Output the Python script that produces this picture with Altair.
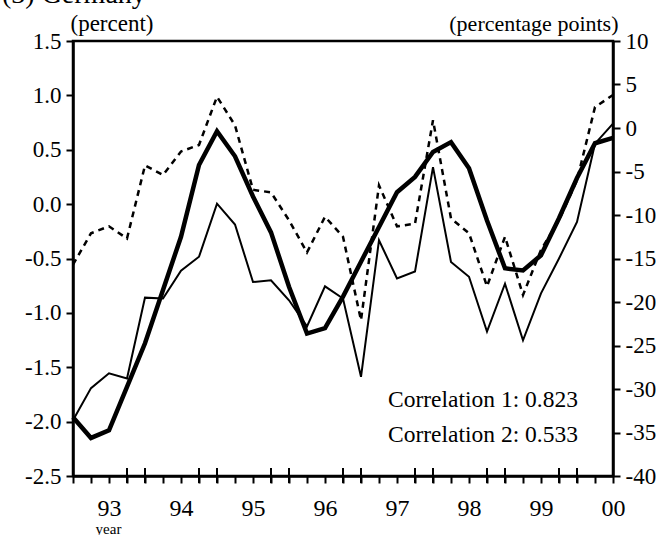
import json

import altair as alt
import pandas as pd

FONT = "Liberation Serif"

# Quarterly observations, 1992Q3 .. 2000Q1 (index 0 .. 30)
quarters = list(range(31))

# Thick solid line, left axis (percent)
output_gap = [-1.96, -2.15, -2.08, -1.68, -1.28, -0.79, -0.30, 0.36, 0.67, 0.44,
              0.07, -0.26, -0.76, -1.19, -1.14, -0.85, -0.53, -0.21, 0.11, 0.25,
              0.48, 0.57, 0.33, -0.15, -0.59, -0.61, -0.47, -0.13, 0.24, 0.56, 0.61]

# Thin solid line, right axis (percentage points)
indicator_1 = [-33.6, -29.9, -28.2, -28.8, -19.5, -19.6, -16.4, -14.8, -8.7, -11.1,
               -17.7, -17.5, -19.8, -22.8, -18.2, -19.6, -28.6, -12.9, -17.3, -16.5,
               -4.5, -15.4, -17.1, -23.4, -17.9, -24.4, -19.0, -15.0, -10.8, -1.8, 0.5]

# Dashed line, right axis (percentage points)
indicator_2 = [-15.7, -12.1, -11.3, -12.7, -4.3, -5.4, -2.7, -1.95, 3.6, 0.3,
               -7.1, -7.4, -10.6, -14.3, -10.2, -12.5, -22.1, -6.6, -11.3, -11.0,
               0.9, -10.4, -12.1, -18.2, -12.5, -19.2, -14.0, -10.6, -6.0, 2.4, 3.8]

year_ticks = [2, 6, 10, 14, 18, 22, 26, 30]
year_labels = ["93", "94", "95", "96", "97", "98", "99", "00"]
major_ticks = [3, 4, 7, 8, 11, 12, 15, 16, 19, 20, 23, 24, 27, 28]

left_ticks = [-2.5, -2.0, -1.5, -1.0, -0.5, 0.0, 0.5, 1.0, 1.5]
right_ticks = [-40, -35, -30, -25, -20, -15, -10, -5, 0, 5, 10]

correlation_notes = ["Correlation 1: 0.823", "Correlation 2: 0.533"]
panel_title = ["(3) Germany"]

df = pd.DataFrame({"q": quarters, "gap": output_gap,
                   "ind1": indicator_1, "ind2": indicator_2})

year_expr = "indexof({p}, datum.value) >= 0 ? {l}[indexof({p}, datum.value)] : ''".format(
    p=json.dumps(year_ticks), l=json.dumps(year_labels))
hyphen = lambda spec: "replace(format(datum.value, '%s'), '\u2212', '-')" % spec

x_enc = alt.X(
    "q:Q",
    scale=alt.Scale(domain=[0, 30], nice=False, zero=False),
    axis=alt.Axis(values=quarters, labelExpr=year_expr, labelOverlap=False,
                  labelFlush=False, tickSize=7, tickWidth=2, domainWidth=2.5,
                  labelFontSize=24, labelPadding=13,
                  title="year", titleFontSize=15, titleFontWeight="normal",
                  titleX=35, titleY=57, titleAlign="center",
                  titleBaseline="alphabetic"),
)

base = alt.Chart(df)

left_line = base.mark_line(color="black", strokeWidth=4.5).encode(
    x=x_enc,
    y=alt.Y("gap:Q",
            scale=alt.Scale(domain=[-2.5, 1.5], nice=False, zero=False),
            axis=alt.Axis(orient="left", values=left_ticks, labelExpr=hyphen(".1f"),
                          tickSize=7, tickWidth=2, domainWidth=2.5,
                          labelFontSize=23, labelPadding=5,
                          title="(percent)", titleAngle=0, titleAlign="left",
                          titleX=-3, titleY=-11, titleBaseline="alphabetic",
                          titleFontSize=23, titleFontWeight="normal")),
)

right_axis = alt.Axis(orient="right", values=right_ticks, labelExpr=hyphen("d"),
                      tickSize=7, tickWidth=2, domainWidth=2.5,
                      labelFontSize=23, labelPadding=5,
                      title="(percentage points)", titleAngle=0, titleAlign="right",
                      titleX=5, titleY=-11, titleBaseline="alphabetic",
                      titleFontSize=22, titleFontWeight="normal")
right_scale = alt.Scale(domain=[-40, 10], nice=False, zero=False)

thin_line = base.mark_line(color="black", strokeWidth=2).encode(
    x=x_enc, y=alt.Y("ind1:Q", scale=right_scale, axis=right_axis))
dashed_line = base.mark_line(color="black", strokeWidth=2.5, strokeDash=[6, 5]).encode(
    x=x_enc, y=alt.Y("ind2:Q", scale=right_scale, axis=right_axis))

right_layer = alt.layer(thin_line, dashed_line)

# Longer ticks crossing the horizontal axis
major = alt.Chart(pd.DataFrame({"q": major_ticks})).mark_rule(
    color="black", strokeWidth=2).encode(
    x=x_enc, y=alt.value(427), y2=alt.value(442))

# Correlation annotations, one line each
note_layers = [
    alt.Chart(pd.DataFrame({"t": [txt]})).mark_text(
        font=FONT, fontSize=23.5, align="left", baseline="alphabetic", color="black"
    ).encode(text="t:N", x=alt.value(315), y=alt.value(366 + 35 * i))
    for i, txt in enumerate(correlation_notes)
]

title = alt.Chart(pd.DataFrame({"t": panel_title})).mark_text(
    font=FONT, fontSize=28, align="left", baseline="alphabetic", color="black").encode(
    text="t:N", x=alt.value(-71), y=alt.value(-38))

chart = alt.layer(left_line, right_layer, major, *note_layers, title).resolve_scale(
    y="independent"
).properties(
    width=540, height=435,
    autosize=alt.AutoSizeParams(type="none"),
    padding={"left": 73, "top": 41, "right": 50, "bottom": 59},
    background="white",
).configure_view(
    stroke="black", strokeWidth=2.5
).configure_axis(
    grid=False, domainColor="black", tickColor="black", labelColor="black",
    titleColor="black", labelFont=FONT, titleFont=FONT,
)

chart.save("out.html", embed_options={"renderer": "svg", "actions": False})
